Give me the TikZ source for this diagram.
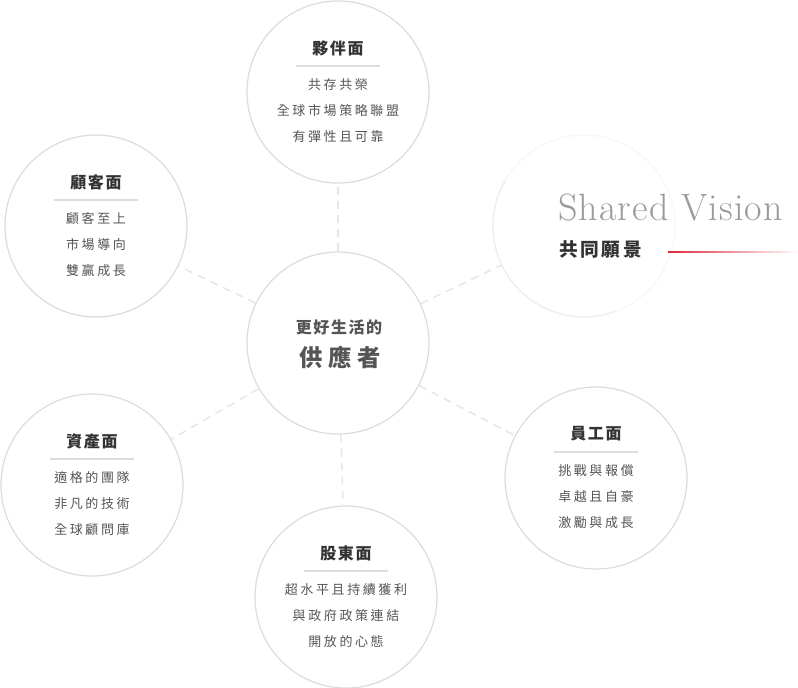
\documentclass[tikz,border=0pt]{standalone}
\usepackage{fontspec}
\usepackage{xcolor}
\usepackage{tikz}
\usetikzlibrary{positioning}

\newfontfamily\cjk{Noto Sans CJK TC}
\newfontfamily\punktfont[LetterSpace=20]{Noto Sans CJK TC}
\newfontfamily\titelfont[LetterSpace=10]{Noto Sans CJK TC}
\newfontfamily\kernfont[LetterSpace=24]{Noto Sans CJK TC}
\newfontfamily\visionfont[LetterSpace=14]{Noto Sans CJK TC}
\newfontfamily\visionlatein[LetterSpace=3]{Latin Modern Roman}

\definecolor{kreisgrau}{HTML}{DCDCDC}
\definecolor{strichgrau}{HTML}{E6E6E6}
\definecolor{titelgrau}{HTML}{333333}
\definecolor{textgrau}{HTML}{555555}
\definecolor{visiongrau}{HTML}{9A9A9A}
\definecolor{visionrot}{HTML}{DD2A3C}

\tikzset{
  kreis/.style={circle, draw=kreisgrau, line width=0.9pt, fill=white,
    minimum size=136.5pt, inner sep=0pt},
  verbindung/.style={draw=strichgrau, line width=1.1pt, dash pattern=on 6pt off 4.5pt},
  titel/.style={inner sep=0pt, text=titelgrau, font=\titelfont\bfseries\fontsize{12pt}{14pt}\selectfont},
  trenner/.style={draw=kreisgrau, line width=1.5pt},
  punkte/.style={inner sep=0pt, align=center, text=textgrau,
    font=\punktfont\fontsize{9.75pt}{19.5pt}\selectfont},
}

\begin{document}
\begin{tikzpicture}[x=0.75pt, y=-0.75pt]
    \useasboundingbox (0,0) rectangle (798,687);
    \fill[white] (0,0) rectangle (798,687);

    % Kreise
    \node[kreis] (mitte) at (338,343) {};
    \node[kreis] (partner) at (338,92) {};
    \node[kreis] (kunde) at (96,226) {};
    \node[kreis, draw=black!3] (vision) at (584,226) {};
    \node[kreis] (vermoegen) at (92,485) {};
    \node[kreis] (mitarbeiter) at (596,478) {};
    \node[kreis] (aktionaer) at (346,597) {};

    % leicht sichtbarer Bogen des Visionskreises
    \draw[black!7, line width=0.9pt] (vision.center) ++(210:91) arc[start angle=210, end angle=70, radius=91];

    % Verbindungen
    \draw[verbindung] (mitte) -- (partner);
    \draw[verbindung] (mitte) -- (kunde);
    \draw[verbindung] (mitte) -- (vision);
    \draw[verbindung] (mitte) -- (vermoegen);
    \draw[verbindung] (mitte) -- (mitarbeiter);
    \draw[verbindung] (mitte) -- (aktionaer);

    % Mitte
    \node[inner sep=0pt, text=textgrau, font=\titelfont\bfseries\fontsize{12pt}{14pt}\selectfont]
      (mitteoben) at (339,327) {更好生活的};
    \node[inner sep=0pt, text=textgrau, font=\kernfont\bfseries\fontsize{17.5pt}{20pt}\selectfont]
      (mitteunten) at (340,357) {供應者};

    % Partnerseite
    \begin{scope}[shift={(338,92)}]
        \node[titel] at (0,-44) {夥伴面};
        \draw[trenner] (-42,-26) -- (42,-26);
        \node[punkte] at (0,19) {共存共榮\\全球市場策略聯盟\\有彈性且可靠};
    \end{scope}

    % Kundenseite
    \begin{scope}[shift={(96,226)}]
        \node[titel] at (0,-44) {顧客面};
        \draw[trenner] (-42,-26) -- (42,-26);
        \node[punkte] at (0,19) {顧客至上\\市場導向\\雙贏成長};
    \end{scope}

    % Vermoegensseite
    \begin{scope}[shift={(92,485)}]
        \node[titel] at (0,-44) {資產面};
        \draw[trenner] (-42,-26) -- (42,-26);
        \node[punkte] at (0,19) {適格的團隊\\非凡的技術\\全球顧問庫};
    \end{scope}

    % Mitarbeiterseite
    \begin{scope}[shift={(596,478)}]
        \node[titel] at (0,-44) {員工面};
        \draw[trenner] (-42,-26) -- (42,-26);
        \node[punkte] at (0,19) {挑戰與報償\\卓越且自豪\\激勵與成長};
    \end{scope}

    % Aktionaersseite
    \begin{scope}[shift={(346,597)}]
        \node[titel] at (0,-44) {股東面};
        \draw[trenner] (-42,-26) -- (42,-26);
        \node[punkte] at (0,19) {超水平且持續獲利\\與政府政策連結\\開放的心態};
    \end{scope}

    % Vision
    \node[anchor=base west, inner sep=0pt, text=visiongrau, font=\visionlatein\fontsize{28.5pt}{32pt}\selectfont]
      (visiontitel) at (558,220) {Shared Vision};
    \node[anchor=west, inner sep=0pt, text=titelgrau, font=\visionfont\bfseries\fontsize{14pt}{16pt}\selectfont]
      (visionzeile) at (559,249) {共同願景};
    \shade[left color=visionrot, right color=white] (668,251.2) rectangle (798,252.8);
\end{tikzpicture}
\end{document}
